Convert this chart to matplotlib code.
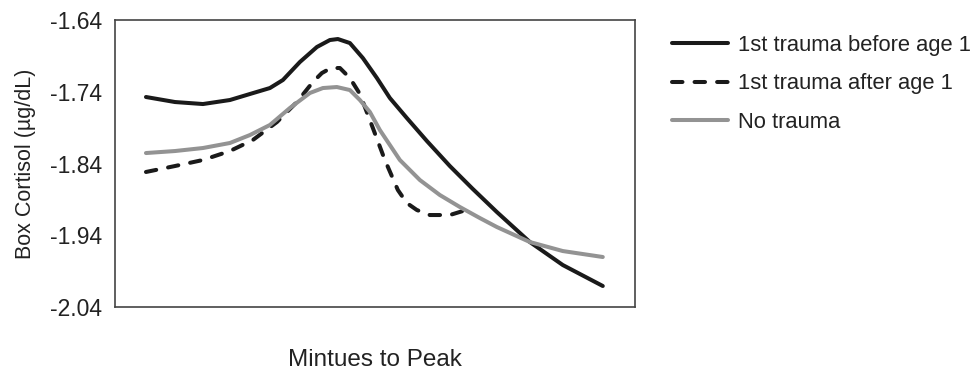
import matplotlib
matplotlib.use("Agg")
import matplotlib.pyplot as plt

plt.rcParams['font.family'] = ['Liberation Sans', 'DejaVu Sans']

# Data (x in relative minutes units, y = box cortisol)
x_before = [0, 6.35, 12.47, 18.38, 22.76, 27.13, 29.98, 33.70, 37.42, 40.26, 42.01, 44.64, 47.48, 50.55, 53.39,
            57.11, 61.49, 66.52, 71.55, 76.81, 84.03, 91.25, 100]
y_before = [-1.7473, -1.7543, -1.7571, -1.7515, -1.7431, -1.7348, -1.7236, -1.6985, -1.6776, -1.6679, -1.6665,
            -1.6721, -1.6930, -1.7208, -1.7487, -1.7766, -1.8086, -1.8435, -1.8755, -1.9076, -1.9494, -1.9815, -2.0107]

x_after = [0, 6.35, 12.47, 18.38, 23.41, 28.67, 33.04, 36.54, 38.51, 40.48, 42.45, 44.64, 46.83, 49.67, 52.30,
           55.14, 57.11, 59.30, 62.14, 66.52, 69.37]
y_after = [-1.8518, -1.8435, -1.8351, -1.8226, -1.8072, -1.7822, -1.7543, -1.7264, -1.7139, -1.7069, -1.7069,
           -1.7208, -1.7431, -1.7905, -1.8351, -1.8769, -1.8951, -1.9048, -1.9118, -1.9118, -1.9062]

x_none = [0, 6.35, 12.47, 18.38, 22.76, 27.13, 31.51, 35.89, 38.73, 41.79, 44.64, 46.83, 49.02, 51.20, 55.58,
          59.96, 64.33, 68.71, 73.09, 76.81, 84.03, 91.25, 100]
y_none = [-1.8254, -1.8226, -1.8184, -1.8114, -1.8003, -1.7863, -1.7626, -1.7417, -1.7348, -1.7334, -1.7376,
          -1.7515, -1.7682, -1.7933, -1.8351, -1.8630, -1.8839, -1.9006, -1.9160, -1.9285, -1.9494, -1.9620, -1.9703]

labels = ["1st trauma before age 1", "1st trauma after age 1", "No trauma"]
yticks = [-1.64, -1.74, -1.84, -1.94, -2.04]

fig = plt.figure(figsize=(9.77, 3.82), dpi=100)
ax = fig.add_axes([0.1177, 0.1963, 0.532, 0.7513])

lw = 2.9
ax.plot(x_before, y_before, color='#1a1a1a', lw=lw, solid_capstyle='round', solid_joinstyle='round', label=labels[0])
ax.plot(x_after, y_after, color='#1a1a1a', lw=lw, linestyle=(0, (2.6, 3.0)), dash_capstyle='round',
        dash_joinstyle='round', label=labels[1])
ax.plot(x_none, y_none, color='#939393', lw=lw, solid_capstyle='round', solid_joinstyle='round', label=labels[2])

ax.set_xlim(-6.78, 107.0)
ax.set_ylim(-2.04, -1.64)
ax.set_yticks(yticks)
ax.set_yticklabels([f"{t:.2f}" for t in yticks])
ax.set_xticks([])
ax.tick_params(axis='y', length=0, pad=9, labelsize=16.5, colors='#222222')
for s in ax.spines.values():
    s.set_color('#444444')
    s.set_linewidth(1.2)

ax.set_ylabel("Box Cortisol (µg/dL)", fontsize=15.5, color='#222222', labelpad=10)
ax.set_xlabel("Mintues to Peak", fontsize=17.5, color='#222222', labelpad=30)

leg = ax.legend(loc='upper left', bbox_to_anchor=(0.688, 0.909), bbox_transform=fig.transFigure,
                frameon=False, fontsize=15.8, handlelength=2.55, handletextpad=0.45, labelspacing=0.8,
                borderpad=0, borderaxespad=0)
for t in leg.get_texts():
    t.set_color('#222222')

fig.savefig("out.png", dpi=100)
